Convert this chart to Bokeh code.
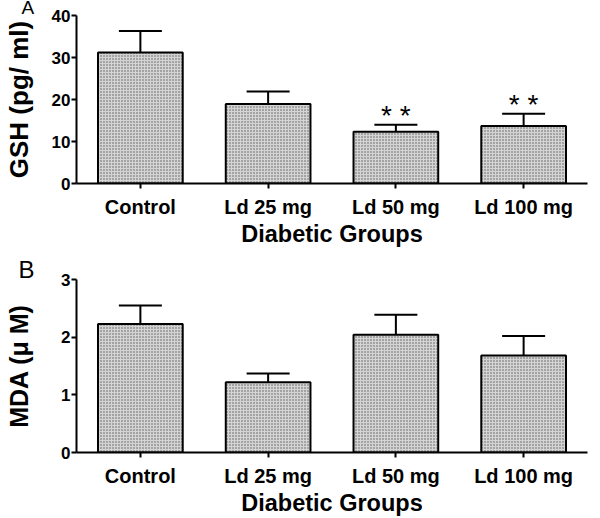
from bokeh.plotting import figure
from bokeh.models import (ColumnDataSource, FactorRange, Range1d, Whisker, TeeHead,
                          FixedTicker)
from bokeh.layouts import column
from bokeh.core.properties import value
from bokeh.embed import file_html
from bokeh.resources import INLINE

groups = ["Control", "Ld 25 mg", "Ld 50 mg", "Ld 100 mg"]
gsh_mean = [31.2, 18.9, 12.3, 13.7]
gsh_err = [5.1, 3.0, 1.7, 2.9]
gsh_sig = ["", "", "* *", "* *"]
mda_mean = [2.23, 1.22, 2.04, 1.68]
mda_err = [0.32, 0.15, 0.35, 0.34]
gsh_ticks = [0, 10, 20, 30, 40]
mda_ticks = [0, 1, 2, 3]

FONT = "Liberation Sans"


def make_panel(means, errs, ymax, ticks, ylabel, letter, sig, height, border_top,
               border_bottom, border_right, ylabel_size, ylabel_standoff,
               letter_offset, letter_size, letter_standoff):
    src = ColumnDataSource(dict(
        g=groups, m=means,
        up=[a + b for a, b in zip(means, errs)],
        lo=[a - b for a, b in zip(means, errs)],
        sig=sig if sig else [""] * len(groups),
    ))
    p = figure(x_range=FactorRange(*groups, range_padding=0),
               y_range=Range1d(0, ymax),
               width=592, height=height, title=letter,
               output_backend="svg", toolbar_location=None,
               min_border_left=68, min_border_right=border_right,
               min_border_top=border_top, min_border_bottom=border_bottom)
    p.outline_line_color = None
    p.grid.grid_line_color = None
    p.background_fill_color = "white"

    p.title.align = "left"
    p.title.vertical_align = "top"
    p.title.offset = letter_offset
    p.title.standoff = letter_standoff
    p.title.text_font = FONT
    p.title.text_font_style = "normal"
    p.title.text_font_size = letter_size
    p.title.text_color = "black"

    p.vbar(x="g", top="m", width=0.663, source=src,
           fill_color="#d4d4d4", line_color="black", line_width=2,
           hatch_pattern="dot", hatch_color="#5a5a5a", hatch_scale=3, hatch_weight=1)

    w = Whisker(base="g", upper="up", lower="lo", source=src,
                line_width=2, line_color="black",
                upper_head=TeeHead(size=43, line_width=2, line_color="black"),
                lower_head=TeeHead(size=43, line_width=2, line_color="black"))
    p.add_layout(w)

    if sig:
        p.text(x="g", y="up", text="sig", source=src,
               text_font=value(FONT), text_font_size="28px",
               text_align="center", text_baseline="alphabetic",
               y_offset=-9, text_color="black")

    for ax in (p.xaxis[0], p.yaxis[0]):
        ax.axis_line_width = 2
        ax.major_tick_line_width = 2
        ax.major_tick_in = 0
        ax.major_tick_out = 5
        ax.minor_tick_line_color = None
        ax.major_label_text_font = FONT
        ax.major_label_text_font_style = "bold"
        ax.axis_label_text_font = FONT
        ax.axis_label_text_font_style = "bold"
        ax.major_label_text_color = "black"
        ax.axis_label_text_color = "black"

    p.yaxis.ticker = FixedTicker(ticks=ticks)
    p.yaxis.major_label_text_font_size = "17px"
    p.yaxis.major_label_standoff = 1
    p.yaxis.axis_label = ylabel
    p.yaxis.axis_label_text_font_size = ylabel_size
    p.yaxis.axis_label_standoff = ylabel_standoff

    p.xaxis.major_label_text_font_size = "20px"
    p.xaxis.major_label_standoff = 7
    p.xaxis.axis_label = "Diabetic Groups"
    p.xaxis.axis_label_text_font_size = "23.5px"
    p.xaxis.axis_label_standoff = 0
    return p


pa = make_panel(gsh_mean, gsh_err, 40, gsh_ticks, "GSH (pg/ ml)", "A", gsh_sig,
                260, 15, 77, 5, "26px", 15, -55, "19px", -8)
pb = make_panel(mda_mean, mda_err, 3, mda_ticks, "MDA (\u03bc M)", "B", None,
                258, 19, 65, 0, "25px", 25, -58, "24px", -10)

layout = column(pa, pb)
open("out.html", "w").write(file_html(layout, INLINE))
